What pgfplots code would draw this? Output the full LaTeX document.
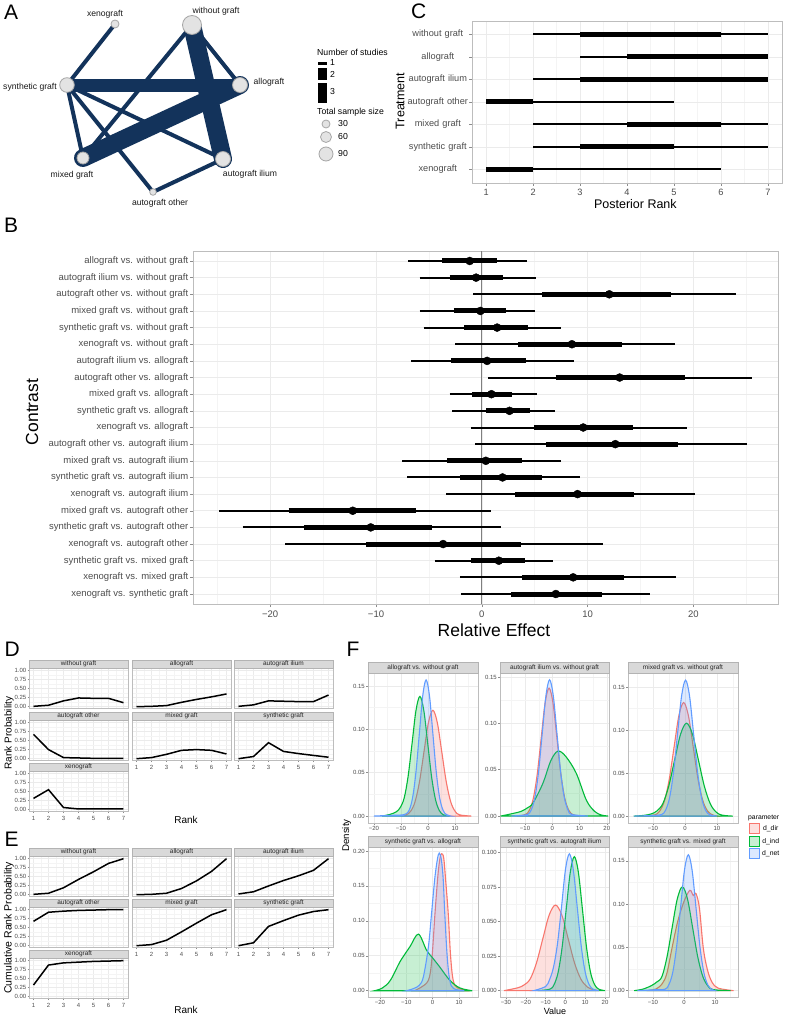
\documentclass[border=0pt]{standalone}
\usepackage{fontspec}
\setmainfont{Liberation Sans}
\usepackage{pgfplots}
\usepackage{pgfplotstable}
\pgfplotsset{compat=1.18}
\newcommand\fs[1]{\fontsize{#1}{#1}\selectfont}
\definecolor{navy}{HTML}{13335B}
\definecolor{nodefill}{HTML}{E3E3E3}
\definecolor{nodeedge}{HTML}{A6A6A6}
\definecolor{gmaj}{HTML}{EBEBEB}
\definecolor{gmin}{HTML}{F4F4F4}
\definecolor{pborder}{HTML}{BDBDBD}
\definecolor{tlab}{HTML}{4D4D4D}
\definecolor{tickc}{HTML}{8C8C8C}
\definecolor{stripf}{HTML}{D9D9D9}
\definecolor{stripd}{HTML}{B3B3B3}
\definecolor{zeroc}{HTML}{7F7F7F}
\definecolor{cdir}{HTML}{F8766D}
\definecolor{cind}{HTML}{00BA38}
\definecolor{cnet}{HTML}{619CFF}

\pgfplotstableread{
y lo hi qlo qhi mid
21 -6.97 4.23 -3.75 1.39 -1.14
20 -5.87 5.08 -3.03 2.02 -0.54
19 -0.82 24.04 5.71 17.89 12.05
18 -5.87 5.02 -2.65 2.27 -0.13
17 -5.49 7.44 -1.67 4.35 1.45
16 -2.52 18.30 3.44 13.25 8.52
15 -6.66 8.71 -2.93 4.16 0.50
14 0.60 25.58 6.97 19.24 13.03
13 -3.03 5.24 -0.88 2.81 0.91
12 -2.81 6.91 0.44 4.54 2.62
11 -1.04 19.37 4.92 14.26 9.59
10 -0.66 25.05 6.06 18.52 12.62
9 -7.51 7.44 -3.25 3.79 0.38
8 -7.07 9.31 -2.02 5.68 1.96
7 -3.34 20.19 3.15 14.38 9.05
6 -24.8 0.91 -18.26 -6.18 -12.2
5 -22.6 1.86 -16.8 -4.67 -10.5
4 -18.6 11.42 -10.9 3.69 -3.66
3 -4.45 6.75 -1.04 4.07 1.61
2 -2.08 18.33 3.79 13.41 8.64
1 -1.99 15.90 2.74 11.32 7.00
}\forestdata

\pgfplotstableread{
y lo hi qlo qhi
7 2 7 3 6
6 3 7 4 7
5 2 7 3 7
4 1 5 1 2
3 2 7 4 6
2 2 7 3 5
1 1 6 1 2
}\rankdata

\pgfplotsset{
 pos/.style 2 args={at={(#1pt,-#2pt)}, anchor=north west},
 gg/.style={scale only axis, axis line style={draw=pborder, line width=0.7pt},
   grid=both, major grid style={draw=gmaj, line width=0.6pt}, minor grid style={draw=gmin, line width=0.4pt},
   tick align=outside, major tick length=3pt, minor tick length=0pt,
   tick style={draw=tickc, line width=0.5pt}, tick pos=left,
   tick label style={text=tlab}, /pgf/number format/assume math mode=true},
 strip/.style n args={3}{title={#1}, every axis title/.style={at={(0.5,1)}, anchor=south,
   fill=stripf, draw=stripd, line width=0.5pt, inner sep=0pt, minimum width=#2,
   minimum height=#3, text=black!85, font=\fs{6.5}}},
 rank/.style={gg, width=99pt, height=40pt, xmin=0.7, xmax=7.3, ymin=-0.05, ymax=1.05,
   xtick={1,2,3,4,5,6,7}, xticklabels={1,2,3,4,5,6,7}, minor xtick={1.5,2.5,3.5,4.5,5.5,6.5},
   ytick={0,0.25,0.5,0.75,1}, yticklabels={0.00,0.25,0.50,0.75,1.00},
   minor ytick={0.125,0.375,0.625,0.875},
   tick label style={font=\fs{6}}, major tick length=1.5pt, yticklabel style={inner sep=1pt}},
 noxlab/.style={xticklabels={}, xtick style={draw=none}},
 noylab/.style={yticklabels={}, ytick style={draw=none}},
 fax/.style={gg, width=110pt, height=150pt, tick label style={font=\fs{6}}, major tick length=2pt,
   yticklabel style={inner sep=1pt}, xticklabel style={inner sep=1.5pt}},
 dens/.style={draw=#1, fill=#1, fill opacity=0.22, line width=1.1pt, smooth, tension=0.55},
 e1/.style={navy, line width=4pt, line cap=round},
 e2/.style={navy, line width=13pt, line cap=round},
 e3/.style={navy, line width=18pt, line cap=round},
 nd/.style={only marks, mark=*, mark size=#1, mark options={fill=nodefill, draw=nodeedge, line width=0.8pt}},
 bar/.style={draw=none, mark=none, forget plot, error bars/.cd, x dir=plus, x explicit, error mark=none,
   error bar style={draw=black, solid, line width=#1}},
}

\newcommand{\rp}[5]{%
\begin{axis}[rank, pos={#1}{#2}, strip={#3}{99pt}{8pt}, #4]
\addplot[black, line width=1.5pt] coordinates {#5};
\end{axis}}

\begin{document}
\begin{tikzpicture}
\useasboundingbox (0,0) rectangle (786pt,-1016pt);
\fill[white] (0,0) rectangle (786pt,-1016pt);

% ---------------- Panel A: network ----------------
\begin{axis}[pos={0}{0}, scale only axis, width=400pt, height=215pt, xmin=0, xmax=400, ymin=0, ymax=215,
  y dir=reverse, hide axis, clip=false]
\addplot[e1] coordinates {(115,24) (67,85)};
\addplot[e1] coordinates {(67,85) (83,158)};
\addplot[e1] coordinates {(67,85) (223,159)};
\addplot[e1] coordinates {(67,85) (153,192)};
\addplot[e1] coordinates {(192,25) (83,158)};
\addplot[e1] coordinates {(192,25) (240,85)};
\addplot[e1] coordinates {(223,159) (153,192)};
\addplot[e2] coordinates {(67,85) (240,85)};
\addplot[e3] coordinates {(192,25) (223,159)};
\addplot[e3] coordinates {(83,158) (240,85)};
\addplot[nd=4pt] coordinates {(115,24)};
\addplot[nd=9.5pt] coordinates {(192,25)};
\addplot[nd=7.3pt] coordinates {(67,85)};
\addplot[nd=7.5pt] coordinates {(240,85)};
\addplot[nd=6pt] coordinates {(83,158)};
\addplot[nd=7.5pt] coordinates {(223,159)};
\addplot[nd=3.3pt] coordinates {(153,192)};
\node[font=\fs{8.6}, text=black!90] at (axis cs:105,14) {xenograft};
\node[font=\fs{8.6}, text=black!90] at (axis cs:216,11) {without graft};
\node[font=\fs{8.6}, text=black!90] at (axis cs:30,87) {synthetic graft};
\node[font=\fs{8.6}, text=black!90] at (axis cs:269,82) {allograft};
\node[font=\fs{8.6}, text=black!90] at (axis cs:72,175) {mixed graft};
\node[font=\fs{8.6}, text=black!90] at (axis cs:250,174) {autograft ilium};
\node[font=\fs{8.6}, text=black!90] at (axis cs:160,203) {autograft other};
% legend
\node[font=\fs{8.7}, anchor=west, inner sep=0pt] at (axis cs:317,52) {Number of studies};
\addplot[black, line width=3pt] coordinates {(318,63.3) (327,63.3)};
\addplot[black, line width=11.7pt] coordinates {(318,74.2) (327,74.2)};
\addplot[black, line width=20.6pt] coordinates {(318,93) (327,93)};
\node[font=\fs{8.7}, anchor=west, inner sep=0pt] at (axis cs:330,63) {1};
\node[font=\fs{8.7}, anchor=west, inner sep=0pt] at (axis cs:330,74) {2};
\node[font=\fs{8.7}, anchor=west, inner sep=0pt] at (axis cs:330,92) {3};
\node[font=\fs{8.7}, anchor=west, inner sep=0pt] at (axis cs:317,112) {Total sample size};
\addplot[nd=4pt] coordinates {(326,124)};
\addplot[nd=5.5pt] coordinates {(326,137)};
\addplot[nd=7pt] coordinates {(326,154)};
\node[font=\fs{8.7}, anchor=west, inner sep=0pt] at (axis cs:338,124) {30};
\node[font=\fs{8.7}, anchor=west, inner sep=0pt] at (axis cs:338,137) {60};
\node[font=\fs{8.7}, anchor=west, inner sep=0pt] at (axis cs:338,154) {90};
\end{axis}

% ---------------- Panel C: posterior rank ----------------
\begin{axis}[gg, pos={472}{21}, width=310pt, height=162pt, xmin=0.7, xmax=7.3, ymin=0.4, ymax=7.6,
  xtick={1,2,3,4,5,6,7}, xticklabels={1,2,3,4,5,6,7}, minor xtick={1.5,2.5,3.5,4.5,5.5,6.5},
  ytick={1,2,3,4,5,6,7},
  yticklabels={xenograft,synthetic graft,mixed graft,autograft other,autograft ilium,allograft,without graft},
  yticklabel style={text width=61pt, align=center, inner sep=0.5pt},
  tick label style={font=\fs{9.2}},
  xlabel={Posterior Rank}, ylabel={Treatment}, label style={font=\fs{12.5}},
  xlabel style={at={(rel axis cs:0.527,-0.13)}, anchor=center},
  ylabel style={at={(rel axis cs:-0.232,0.506)}, anchor=center}]
\addplot[bar=2pt] table[x=lo, y=y, x error plus expr=\thisrow{hi}-\thisrow{lo}] {\rankdata};
\addplot[bar=5pt] table[x=qlo, y=y, x error plus expr=\thisrow{qhi}-\thisrow{qlo}] {\rankdata};
\end{axis}

% ---------------- Panel B: forest ----------------
\begin{axis}[gg, pos={193}{251}, width=585pt, height=353pt,
  xmin=-27.3, xmax=28, ymin=0.4, ymax=21.6,
  xtick={-20,-10,0,10,20}, xticklabels={−20,−10,0,10,20}, minor xtick={-25,-15,-5,5,15,25},
  ytick={1,2,...,21},
  yticklabels={xenograft vs. synthetic graft,xenograft vs. mixed graft,synthetic graft vs. mixed graft,xenograft vs. autograft other,synthetic graft vs. autograft other,mixed graft vs. autograft other,xenograft vs. autograft ilium,synthetic graft vs. autograft ilium,mixed graft vs. autograft ilium,autograft other vs. autograft ilium,xenograft vs. allograft,synthetic graft vs. allograft,mixed graft vs. allograft,autograft other vs. allograft,autograft ilium vs. allograft,xenograft vs. without graft,synthetic graft vs. without graft,mixed graft vs. without graft,autograft other vs. without graft,autograft ilium vs. without graft,allograft vs. without graft},
  tick label style={font=\fs{9.5}}, yticklabel style={inner sep=1.5pt},
  xlabel={Relative Effect}, ylabel={Contrast}, label style={font=\fs{17.5}},
  xlabel style={at={(rel axis cs:0.5145,-0.0737)}, anchor=center},
  ylabel style={at={(rel axis cs:-0.275,0.544)}, anchor=center}]
\addplot[draw=zeroc, line width=1.2pt] coordinates {(0,0.4) (0,21.6)};
\addplot[bar=2pt] table[x=lo, y=y, x error plus expr=\thisrow{hi}-\thisrow{lo}] {\forestdata};
\addplot[bar=5pt] table[x=qlo, y=y, x error plus expr=\thisrow{qhi}-\thisrow{qlo}] {\forestdata};
\addplot[only marks, mark=*, mark size=4pt, black] table[x=mid, y=y] {\forestdata};
\end{axis}

% ---------------- Panel D: rank probability ----------------
\rp{29}{668.5}{without graft}{noxlab}{(1,0.01)(2,0.04)(3,0.16)(4,0.24)(5,0.23)(6,0.23)(7,0.11)}
\rp{132}{668.5}{allograft}{noxlab,noylab}{(1,0.00)(2,0.01)(3,0.03)(4,0.12)(5,0.20)(6,0.27)(7,0.35)}
\rp{234}{668.5}{autograft ilium}{noxlab,noylab}{(1,0.01)(2,0.05)(3,0.16)(4,0.15)(5,0.14)(6,0.14)(7,0.32)}
\rp{29}{720.5}{autograft other}{noxlab}{(1,0.67)(2,0.25)(3,0.03)(4,0.02)(5,0.01)(6,0.01)(7,0.01)}
\rp{132}{720.5}{mixed graft}{noylab}{(1,0.00)(2,0.03)(3,0.12)(4,0.23)(5,0.25)(6,0.23)(7,0.13)}
\rp{234}{720.5}{synthetic graft}{noylab}{(1,0.00)(2,0.06)(3,0.44)(4,0.20)(5,0.14)(6,0.09)(7,0.04)}
\rp{29}{771.5}{xenograft}{}{(1,0.31)(2,0.55)(3,0.06)(4,0.02)(5,0.02)(6,0.02)(7,0.02)}

% ---------------- Panel E: cumulative ----------------
\rp{29}{856.5}{without graft}{noxlab}{(1,0.01)(2,0.04)(3,0.19)(4,0.42)(5,0.63)(6,0.86)(7,0.99)}
\rp{132}{856.5}{allograft}{noxlab,noylab}{(1,0.00)(2,0.01)(3,0.04)(4,0.17)(5,0.38)(6,0.64)(7,0.99)}
\rp{234}{856.5}{autograft ilium}{noxlab,noylab}{(1,0.02)(2,0.08)(3,0.24)(4,0.39)(5,0.52)(6,0.67)(7,0.99)}
\rp{29}{907.5}{autograft other}{noxlab}{(1,0.67)(2,0.92)(3,0.95)(4,0.97)(5,0.98)(6,0.99)(7,0.99)}
\rp{132}{907.5}{mixed graft}{noylab}{(1,0.00)(2,0.03)(3,0.15)(4,0.38)(5,0.62)(6,0.85)(7,0.99)}
\rp{234}{907.5}{synthetic graft}{noylab}{(1,0.00)(2,0.08)(3,0.53)(4,0.69)(5,0.84)(6,0.94)(7,0.99)}
\rp{29}{958.5}{xenograft}{}{(1,0.32)(2,0.87)(3,0.93)(4,0.95)(5,0.97)(6,0.98)(7,0.99)}

% ---------------- Panel F: densities ----------------
\begin{axis}[fax, pos={368}{673}, strip={allograft vs. without graft}{110pt}{10.5pt},
  xmin=-22.2, xmax=18.5, ymin=-0.008, ymax=0.165,
  xtick={-20,-10,0,10}, xticklabels={−20,−10,0,10}, minor xtick={-15,-5,5,15},
  ytick={0,0.05,0.1,0.15}, yticklabels={0.00,0.05,0.10,0.15}, minor ytick={0.025,0.075,0.125}]
\addplot[dens=cdir] coordinates {(-10,0) (-8.1,0.0014) (-6.45,0.0054) (-4.8,0.0165) (-3.15,0.0396) (-1.5,0.074) (0.15,0.1077) (1.8,0.122) (3.45,0.1077) (5.1,0.074) (6.75,0.0396) (8.4,0.0165) (10.05,0.0054) (11.7,0.0014) (16,0)} \closedcycle;
\addplot[dens=cind] coordinates {(-17,0) (-14,0.002) (-11.7,0.005) (-10.25,0.010) (-8.8,0.021) (-7.35,0.046) (-5.9,0.0837) (-4.45,0.1218) (-3,0.138) (-1.55,0.1218) (-0.1,0.0837) (1.35,0.0448) (2.8,0.0187) (4.25,0.0061) (5.7,0.0015) (8,0)} \closedcycle;
\addplot[dens=cnet] coordinates {(-20,0) (-14,0.0008) (-10,0.0012) (-8.2,0.0025) (-6.95,0.0069) (-5.7,0.0212) (-4.45,0.051) (-3.2,0.0952) (-1.95,0.1386) (-0.7,0.157) (0.55,0.1386) (1.8,0.0952) (3.05,0.051) (4.3,0.0212) (5.55,0.0069) (6.8,0.0017) (8.5,0)} \closedcycle;
\end{axis}

\begin{axis}[fax, pos={500}{673}, width=109pt, strip={autograft ilium vs. without graft}{109pt}{10.5pt},
  xmin=-19.2, xmax=20.8, ymin=-0.0076, ymax=0.1543,
  xtick={-10,0,10,20}, xticklabels={−10,0,10,20}, minor xtick={-15,-5,5,15},
  ytick={0,0.05,0.1,0.15}, yticklabels={0.00,0.05,0.10,0.15}, minor ytick={0.025,0.075,0.125}]
\addplot[dens=cdir] coordinates {(-13,0) (-9.9,0.0015) (-8.45,0.0061) (-7,0.0187) (-5.55,0.0448) (-4.1,0.0837) (-2.65,0.1218) (-1.2,0.138) (0.25,0.1218) (1.7,0.0837) (3.15,0.0448) (4.6,0.0187) (6.05,0.0061) (7.5,0.0015) (10,0)} \closedcycle;
\addplot[dens=cind] coordinates {(-19,0) (-17.9,0.0005) (-14,0.003) (-11.4,0.005) (-9,0.009) (-7.1,0.014) (-3.5,0.035) (-0.5,0.060) (2.1,0.070) (5,0.064) (8.8,0.046) (12.5,0.017) (15.5,0.005) (18,0.001) (20.5,0)} \closedcycle;
\addplot[dens=cnet] coordinates {(-15,0) (-12,0.0005) (-9.1,0.0016) (-7.75,0.0065) (-6.4,0.0199) (-5.05,0.0477) (-3.7,0.0892) (-2.35,0.1297) (-1,0.147) (0.35,0.1297) (1.7,0.0892) (3.05,0.0477) (4.4,0.0199) (5.75,0.0065) (7.1,0.0016) (13,0)} \closedcycle;
\end{axis}

\begin{axis}[fax, pos={628}{673}, strip={mixed graft vs. without graft}{110pt}{10.5pt},
  xmin=-17.8, xmax=16.6, ymin=-0.008, ymax=0.1663,
  xtick={-10,0,10}, xticklabels={−10,0,10}, minor xtick={-15,-5,5,15},
  ytick={0,0.05,0.1,0.15}, yticklabels={0.00,0.05,0.10,0.15}, minor ytick={0.025,0.075,0.125}]
\addplot[dens=cdir] coordinates {(-15,0) (-12,0.0005) (-9.4,0.0015) (-7.9,0.0058) (-6.4,0.0179) (-4.9,0.0429) (-3.4,0.0801) (-1.9,0.1165) (-0.4,0.132) (1.1,0.1165) (2.6,0.0801) (4.1,0.0429) (5.6,0.0179) (7.1,0.0058) (8.6,0.0015) (10,0)} \closedcycle;
\addplot[dens=cind] coordinates {(-16,0) (-13,0.0008) (-10.6,0.0025) (-8.75,0.006) (-6.9,0.0146) (-5.05,0.0351) (-3.2,0.0655) (-1.35,0.0953) (0.5,0.108) (2.35,0.0953) (4.2,0.0655) (6.05,0.0351) (7.9,0.0146) (9.75,0.0047) (11.6,0.0012) (15,0)} \closedcycle;
\addplot[dens=cnet] coordinates {(-16,0) (-10,0.0008) (-7.3,0.0018) (-6.05,0.0069) (-4.8,0.0214) (-3.55,0.0513) (-2.3,0.0958) (-1.05,0.1394) (0.2,0.158) (1.45,0.1394) (2.7,0.0958) (3.95,0.0513) (5.2,0.0214) (6.45,0.0069) (7.7,0.0018) (10,0)} \closedcycle;
\end{axis}

\begin{axis}[fax, pos={368}{847}, strip={synthetic graft vs. allograft}{110pt}{10.5pt},
  xmin=-24.5, xmax=17.2, ymin=-0.009, ymax=0.2057,
  xtick={-20,-10,0,10}, xticklabels={−20,−10,0,10}, minor xtick={-15,-5,5,15},
  ytick={0,0.05,0.1,0.15,0.2}, yticklabels={0.00,0.05,0.10,0.15,0.20}, minor ytick={0.025,0.075,0.125,0.175}]
\addplot[dens=cdir] coordinates {(-7,0) (-4.8,0.004) (-1.6,0.015) (-0.3,0.045) (0.9,0.111) (2,0.165) (2.8,0.19) (3.4,0.196) (4.2,0.19) (5,0.155) (5.9,0.111) (6.8,0.05) (7.8,0.015) (9.5,0.004) (14,0)} \closedcycle;
\addplot[dens=cind] coordinates {(-22,0) (-19,0.004) (-16,0.015) (-12.3,0.042) (-8.6,0.063) (-5.4,0.081) (-2.3,0.058) (0,0.047) (2.7,0.034) (6.5,0.015) (10.3,0.004) (15,0)} \closedcycle;
\addplot[dens=cnet] coordinates {(-10,0) (-7.3,0.003) (-5,0.008) (-3.5,0.02) (-1.6,0.063) (-0.4,0.111) (0.8,0.16) (1.8,0.188) (2.5,0.197) (3.3,0.188) (4,0.16) (4.6,0.111) (5.5,0.05) (6.5,0.015) (8,0.003) (12,0)} \closedcycle;
\end{axis}

\begin{axis}[fax, pos={500}{847}, width=109pt, strip={synthetic graft vs. autograft ilium}{109pt}{10.5pt},
  xmin=-33, xmax=22, ymin=-0.0046, ymax=0.104,
  xtick={-30,-20,-10,0,10,20}, xticklabels={−30,−20,−10,0,10,20}, minor xtick={-25,-15,-5,5,15},
  ytick={0,0.025,0.05,0.075,0.1}, yticklabels={0.000,0.025,0.050,0.075,0.100}, minor ytick={0.0125,0.0375,0.0625,0.0875}]
\addplot[dens=cdir] coordinates {(-31,0) (-24.2,0.002) (-21,0.004) (-17.8,0.0084) (-14.6,0.0201) (-11.4,0.0376) (-8.2,0.0547) (-5,0.062) (-1.8,0.0547) (1.4,0.0376) (4.6,0.0201) (7.8,0.0084) (11,0.0027) (14.2,0.0007) (17,0)} \closedcycle;
\addplot[dens=cind] coordinates {(-14,0) (-7.8,0.0011) (-5.75,0.0043) (-3.7,0.0131) (-1.65,0.0315) (0.4,0.0588) (2.45,0.0856) (4.5,0.097) (6.55,0.0856) (8.6,0.0588) (10.65,0.0315) (12.7,0.0131) (14.75,0.0043) (16.8,0.0011) (20,0)} \closedcycle;
\addplot[dens=cnet] coordinates {(-16,0) (-10,0.003) (-8,0.008) (-6,0.017) (-4,0.034) (-2,0.060) (0,0.0874) (2,0.099) (4,0.0874) (6,0.060) (8,0.0321) (10,0.0134) (12,0.0043) (14,0.0011) (17,0)} \closedcycle;
\end{axis}

\begin{axis}[fax, pos={628}{847}, strip={synthetic graft vs. mixed graft}{110pt}{10.5pt},
  xmin=-18, xmax=17.4, ymin=-0.0073, ymax=0.166,
  xtick={-10,0,10}, xticklabels={−10,0,10}, minor xtick={-15,-5,5,15},
  ytick={0,0.05,0.1,0.15}, yticklabels={0.00,0.05,0.10,0.15}, minor ytick={0.025,0.075,0.125},
  legend style={at={(1.1,1.16)}, anchor=north west, draw=none, fill=none, font=\fs{6.8},
    row sep=1.2pt, inner sep=0pt},
  legend image code/.code={\draw[#1, line width=1pt] (0pt,-4.5pt) rectangle (10pt,5.5pt);}]
\addplot[dens=cdir] coordinates {(-12,0) (-9,0.002) (-7,0.008) (-5.5,0.02) (-3.8,0.05) (-2,0.08) (0,0.103) (1.9,0.116) (3.0,0.110) (3.9,0.112) (5,0.095) (6.2,0.05) (7.5,0.025) (9,0.01) (11,0.003) (16,0)} \closedcycle;
\addlegendentry{d\_dir}
\addplot[dens=cind] coordinates {(-16,0) (-13,0.002) (-10.4,0.006) (-8.75,0.01) (-7.1,0.0162) (-5.45,0.039) (-3.8,0.0728) (-2.15,0.1059) (-0.5,0.12) (1.15,0.1059) (2.8,0.0728) (4.45,0.039) (6.1,0.0162) (7.75,0.0053) (9.4,0.0013) (15,0)} \closedcycle;
\addlegendentry{d\_ind}
\addplot[dens=cnet] coordinates {(-15,0) (-10,0.001) (-6.1,0.0017) (-4.85,0.0069) (-3.6,0.0212) (-2.35,0.051) (-1.1,0.0952) (0.15,0.1386) (1.4,0.157) (2.65,0.1386) (3.9,0.0952) (5.15,0.051) (6.4,0.0212) (7.65,0.0069) (8.9,0.0017) (10,0)} \closedcycle;
\addlegendentry{d\_net}
\end{axis}

% ---------------- shared titles and panel letters ----------------
\node[rotate=90, font=\fs{10}] at (9pt,-733pt) {Rank Probability};
\node[font=\fs{10}] at (186pt,-820pt) {Rank};
\node[rotate=90, font=\fs{10.5}] at (9pt,-928pt) {Cumulative Rank Probability};
\node[font=\fs{10}] at (186pt,-1010pt) {Rank};
\node[rotate=90, font=\fs{9.7}] at (346.7pt,-835.5pt) {Density};
\node[font=\fs{9}] at (555pt,-1011pt) {Value};
\node[anchor=west, font=\fs{6.8}, inner sep=0pt] at (748pt,-817.5pt) {parameter};
\node[anchor=base west, font=\fs{21}, inner sep=0pt] at (4pt,-20pt) {A};
\node[anchor=base west, font=\fs{21}, inner sep=0pt] at (411pt,-18.3pt) {C};
\node[anchor=base west, font=\fs{21}, inner sep=0pt] at (4pt,-232.7pt) {B};
\node[anchor=base west, font=\fs{21}, inner sep=0pt] at (4.5pt,-656pt) {D};
\node[anchor=base west, font=\fs{21}, inner sep=0pt] at (4.5pt,-846pt) {E};
\node[anchor=base west, font=\fs{21}, inner sep=0pt] at (346.5pt,-656pt) {F};
\end{tikzpicture}
\end{document}
